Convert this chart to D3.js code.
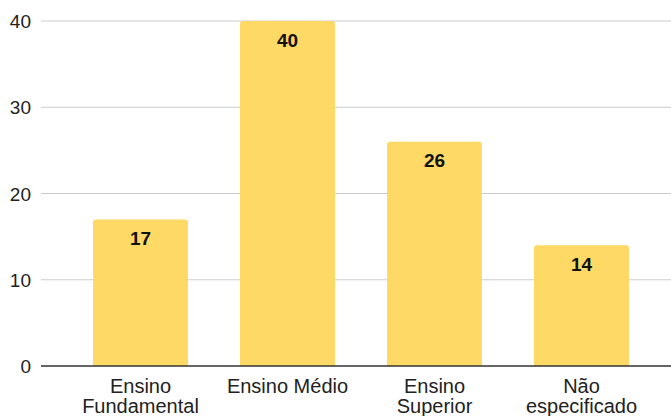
<!DOCTYPE html>
<html><head><meta charset="utf-8">
<script src="https://cdn.jsdelivr.net/npm/d3@7"></script>
<style>body{margin:0;background:#fff}svg{display:block}text{font-family:"Liberation Sans",Arial,sans-serif}</style>
</head><body>
<svg id="c" width="671" height="416"></svg>
<script>
const categories = [["Ensino","Fundamental"],["Ensino Médio"],["Ensino","Superior"],["Não","especificado"]];
const values = [17, 40, 26, 14];
const yTicks = [0, 10, 20, 30, 40];

const svg = d3.select("#c");
const y = d3.scaleLinear().domain([0, 40]).range([366, 21]);
const x = d3.scaleBand().domain(d3.range(categories.length)).range([67, 655]).paddingInner(0.354).paddingOuter(0.177);

// gridlines
svg.append("g").selectAll("line").data(yTicks.filter(d => d !== 0)).join("line")
  .attr("x1", 41).attr("x2", 671).attr("y1", d => y(d)).attr("y2", d => y(d))
  .attr("stroke", "#cccccc").attr("stroke-width", 1);

// y labels
svg.append("g").selectAll("text").data(yTicks).join("text")
  .attr("x", 31).attr("y", d => y(d) + 7).attr("text-anchor", "end")
  .attr("font-size", 19).attr("fill", "#222").text(d => d);

// bars with rounded top corners
const r = 3;
svg.append("g").selectAll("path").data(values).join("path")
  .attr("fill", "#ffd966")
  .attr("d", (d, i) => {
    const x0 = x(i), w = x.bandwidth(), t = y(d), b = y(0);
    return `M${x0},${b}V${t + r}Q${x0},${t} ${x0 + r},${t}H${x0 + w - r}Q${x0 + w},${t} ${x0 + w},${t + r}V${b}Z`;
  });

// value labels
svg.append("g").selectAll("text").data(values).join("text")
  .attr("x", (d, i) => x(i) + x.bandwidth() / 2).attr("y", d => y(d) + 25.5)
  .attr("text-anchor", "middle").attr("font-size", 19).attr("font-weight", "bold").attr("fill", "#111")
  .text(d => d);

// baseline
svg.append("line").attr("x1", 41).attr("x2", 671).attr("y1", y(0)).attr("y2", y(0))
  .attr("stroke", "#333").attr("stroke-width", 1.5);

// category labels
const cl = svg.append("g").selectAll("text").data(categories).join("text")
  .attr("text-anchor", "middle").attr("font-size", 20).attr("fill", "#222")
  .attr("transform", (d, i) => `translate(${x(i) + x.bandwidth() / 2},0)`);
cl.selectAll("tspan").data(d => d).join("tspan")
  .attr("x", 0).attr("y", (d, j) => 393 + j * 19.5).text(d => d);
</script>
</body></html>
